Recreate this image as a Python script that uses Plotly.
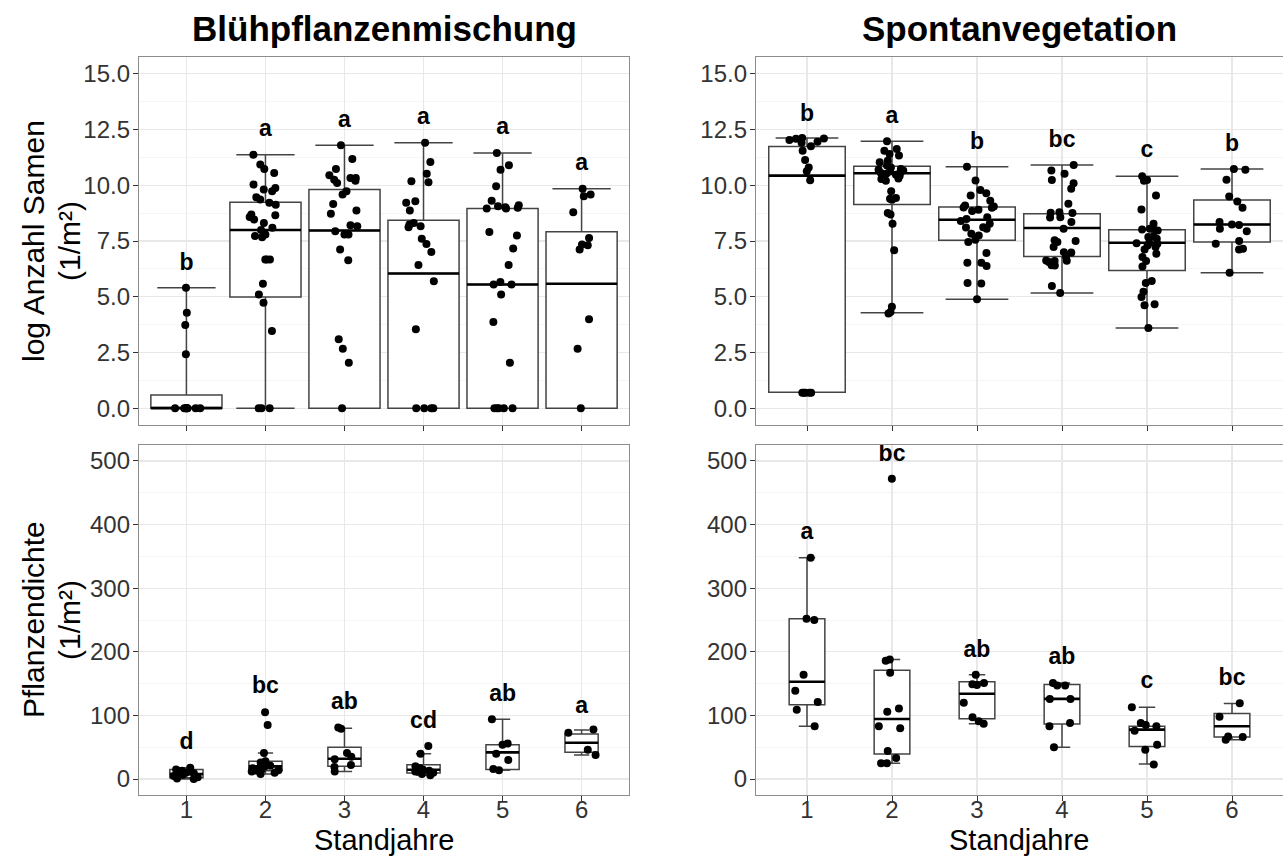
import plotly.graph_objects as go

# ---------------- data ----------------
standjahre = [1, 2, 3, 4, 5, 6]
tick_labels = ["1", "2", "3", "4", "5", "6"]

# Top-left: Blühpflanzenmischung, log Anzahl Samen
bpm_seed_points = [
    [5.4, 4.28, 3.73, 2.42, 0, 0, 0, 0, 0, 0, 0, 0],
    [11.37, 10.93, 10.73, 10.55, 10.03, 9.88, 9.81, 9.73, 9.46, 9.36, 9.21, 9.13, 8.69, 8.66, 8.58, 8.46,
     8.31, 8.09, 7.99, 7.79, 7.72, 7.67, 6.67, 6.67, 6.67, 5.58, 5.1, 4.73, 3.46, 0, 0, 0],
    [11.79, 11.18, 10.73, 10.45, 10.33, 10.33, 10.25, 10.2, 10.1, 9.73, 9.58, 9.16, 8.87, 8.72, 8.21, 8.16,
     7.94, 7.79, 7.79, 7.12, 6.64, 3.09, 2.67, 2.04, 0],
    [11.9, 11.04, 10.51, 10.18, 10.13, 9.28, 9.21, 8.87, 8.31, 8.24, 8.16, 8.12, 7.6, 7.37, 7.01, 6.42, 5.7,
     3.54, 0, 0, 0, 0],
    [11.45, 10.9, 10.7, 9.96, 9.31, 9.1, 9.06, 9.01, 8.99, 8.96, 8.96, 7.9, 7.75, 7.16, 6.42, 5.66, 5.55, 5.55,
     5.1, 3.87, 2.04, 0, 0, 0, 0, 0],
    [9.84, 9.58, 9.51, 8.79, 7.64, 7.34, 7.31, 7.12, 3.99, 2.67, 0],
]
bpm_seed_q1 = [0, 4.99, 0, 0, 0, 0]
bpm_seed_median = [0, 7.99, 7.97, 6.04, 5.55, 5.58]
bpm_seed_q3 = [0.6, 9.24, 9.81, 8.43, 8.96, 7.91]
bpm_seed_low = [0, 0, 0, 0, 0, 0]
bpm_seed_high = [5.4, 11.37, 11.79, 11.9, 11.45, 9.84]
bpm_seed_letters = ["b", "a", "a", "a", "a", "a"]
bpm_seed_letter_y = [6.47, 12.47, 12.89, 13.02, 12.57, 10.95]

# Top-right: Spontanvegetation, log Anzahl Samen
spo_seed_points = [
    [12.12, 12.1, 12.08, 12.03, 11.95, 11.9, 11.75, 11.55, 11.13, 10.8, 10.63, 10.22, 0.7, 0.7, 0.7, 0.7, 0.7],
    [11.97, 11.62, 11.55, 11.4, 11.33, 11.1, 11.03, 10.88, 10.8, 10.73, 10.69, 10.66, 10.62, 10.58, 10.55,
     10.51, 10.47, 10.43, 10.36, 10.3, 10.28, 10.2, 9.73, 9.43, 9.39, 9.35, 8.75, 8.69, 8.27, 7.08, 4.55,
     4.32, 4.25],
    [10.83, 10.21, 9.79, 9.64, 9.54, 9.31, 9.09, 9.05, 9.0, 8.99, 8.9, 8.85, 8.57, 8.49, 8.4, 8.27, 8.12,
     8.1, 8.05, 7.82, 7.75, 7.56, 7.45, 6.96, 6.53, 6.53, 6.38, 5.62, 5.6, 4.89],
    [10.91, 10.66, 10.51, 10.24, 10.09, 9.84, 9.17, 8.79, 8.77, 8.75, 8.57, 8.55, 8.35, 8.05, 7.53, 7.5,
     7.45, 7.23, 7.0, 6.98, 6.78, 6.63, 6.62, 6.6, 6.56, 6.41, 6.4, 5.48, 5.17],
    [10.4, 10.24, 10.2, 9.54, 8.91, 8.27, 8.05, 8.04, 8.02, 7.97, 7.7, 7.68, 7.6, 7.42, 7.4, 7.38, 7.3,
     7.23, 7.12, 6.93, 6.78, 6.6, 6.36, 5.71, 5.62, 5.22, 4.99, 4.66, 4.62, 3.6],
    [10.73, 10.7, 10.25, 9.49, 9.27, 8.99, 8.35, 8.24, 8.22, 8.05, 7.94, 7.5, 7.38, 7.15, 7.12, 6.08],
]
spo_seed_q1 = [0.72, 9.14, 7.53, 6.81, 6.18, 7.45]
spo_seed_median = [10.43, 10.54, 8.45, 8.08, 7.42, 8.24]
spo_seed_q3 = [11.74, 10.85, 9.02, 8.72, 8.0, 9.34]
spo_seed_low = [0.72, 4.28, 4.89, 5.17, 3.6, 6.08]
spo_seed_high = [12.12, 11.97, 10.83, 10.91, 10.4, 10.73]
spo_seed_letters = ["b", "a", "b", "bc", "c", "b"]
spo_seed_letter_y = [13.12, 13.06, 11.87, 11.97, 11.51, 11.78]

# Bottom-left: Blühpflanzenmischung, Pflanzendichte
bpm_dens_points = [
    [18, 15, 13, 12, 10, 9, 7, 5, 3, 1, 0],
    [105, 85, 41, 28, 26, 24, 22, 21, 20, 19, 17, 15, 14, 13, 12, 10, 8],
    [81, 79, 41, 35, 31, 22, 19, 12],
    [52, 40, 20, 17, 15, 13, 12, 10, 8, 6],
    [94, 56, 54, 40, 30, 16, 14],
    [78, 73, 46, 38],
]
bpm_dens_q1 = [2, 13, 20, 9.5, 15, 42]
bpm_dens_median = [8, 20, 32, 14.7, 42, 57]
bpm_dens_q3 = [15, 28, 50, 22.6, 54, 71]
bpm_dens_low = [0, 8, 12, 6, 14, 38]
bpm_dens_high = [18, 41, 80, 40, 94, 77]
bpm_dens_letters = ["d", "bc", "ab", "cd", "ab", "a"]
bpm_dens_letter_y = [55.6, 144.8, 118.6, 89.7, 131.7, 113.3]

# Bottom-right: Spontanvegetation, Pflanzendichte
spo_dens_points = [
    [348, 252, 250, 164, 139, 121, 109, 83],
    [472, 188, 186, 167, 111, 106, 83, 80, 44, 33, 25, 25],
    [164, 151, 149, 148, 120, 97, 91, 87],
    [151, 147, 147, 126, 126, 88, 83, 50],
    [113, 88, 85, 83, 76, 54, 46, 23],
    [119, 98, 67, 66, 62],
]
spo_dens_q1 = [117, 39.4, 95, 86.6, 51.4, 66]
spo_dens_median = [153, 94.5, 134, 126, 77.7, 83]
spo_dens_q3 = [252, 171, 153, 148.6, 83, 103]
spo_dens_low = [83, 25, 87, 50, 23.6, 62]
spo_dens_high = [348, 188, 164, 151, 113, 118.6]
spo_dens_letters = ["a", "bc", "ab", "ab", "c", "bc"]
spo_dens_letter_y = [387, 509.6, 201.5, 190.5, 151.6, 156.9]

titles = ["Blühpflanzenmischung", "Spontanvegetation"]
y_title_top = ["log Anzahl Samen", "(1/m²)"]
y_title_bottom = ["Pflanzendichte", "(1/m²)"]
x_title = "Standjahre"

# ---------------- figure ----------------
W, H = 1283, 857
FONT = "Liberation Sans, Arial, Helvetica, sans-serif"

fig = go.Figure()

panels = [
    dict(pts=bpm_seed_points, q1=bpm_seed_q1, med=bpm_seed_median, q3=bpm_seed_q3, lo=bpm_seed_low,
         hi=bpm_seed_high, let=bpm_seed_letters, ly=bpm_seed_letter_y, xa="x", ya="y", bw=0.9, ww=0.82, jit=0.5),
    dict(pts=spo_seed_points, q1=spo_seed_q1, med=spo_seed_median, q3=spo_seed_q3, lo=spo_seed_low,
         hi=spo_seed_high, let=spo_seed_letters, ly=spo_seed_letter_y, xa="x2", ya="y2", bw=0.9, ww=0.82, jit=0.5),
    dict(pts=bpm_dens_points, q1=bpm_dens_q1, med=bpm_dens_median, q3=bpm_dens_q3, lo=bpm_dens_low,
         hi=bpm_dens_high, let=bpm_dens_letters, ly=bpm_dens_letter_y, xa="x3", ya="y3", bw=0.42, ww=0.46, jit=0.9),
    dict(pts=spo_dens_points, q1=spo_dens_q1, med=spo_dens_median, q3=spo_dens_q3, lo=spo_dens_low,
         hi=spo_dens_high, let=spo_dens_letters, ly=spo_dens_letter_y, xa="x4", ya="y4", bw=0.42, ww=0.46, jit=0.9),
]

for p in panels:
    fig.add_trace(go.Box(
        x=standjahre, y=p["pts"], q1=p["q1"], median=p["med"], q3=p["q3"],
        lowerfence=p["lo"], upperfence=p["hi"],
        boxpoints="all", jitter=p["jit"], pointpos=0,
        width=p["bw"], whiskerwidth=p["ww"],
        fillcolor="white", line=dict(color="#444444", width=1.5),
        marker=dict(color="black", size=8),
        xaxis=p["xa"], yaxis=p["ya"], hoverinfo="skip",
    ))
    # thicker median bars (ggplot style)
    mx, my = [], []
    for xi, m in zip(standjahre, p["med"]):
        mx += [xi - p["bw"] / 2, xi + p["bw"] / 2, None]
        my += [m, m, None]
    fig.add_trace(go.Scatter(x=mx, y=my, mode="lines", line=dict(color="black", width=2.6),
                             xaxis=p["xa"], yaxis=p["ya"], hoverinfo="skip"))
    fig.add_trace(go.Scatter(x=standjahre, y=p["ly"], mode="text",
                             text=["<b>%s</b>" % t for t in p["let"]],
                             textposition="middle center",
                             textfont=dict(family=FONT, size=23, color="black"),
                             xaxis=p["xa"], yaxis=p["ya"], hoverinfo="skip"))

xl = [139 / W, 629 / W]
xr = [756 / W, 1.0]
yt = [1 - 425 / H, 1 - 57 / H]
yb = [1 - 795 / H, 1 - 445 / H]

grid_major = "#E8E8E8"
grid_minor = "#F2F2F2"
border = "#8C8C8C"
tickfont = dict(family=FONT, size=24, color="#333333")


def xax(domain, anchor, labels):
    return dict(domain=domain, anchor=anchor, range=[0.4, 6.6], tickmode="array",
                tickvals=standjahre, ticktext=tick_labels, showticklabels=labels,
                ticks="outside", ticklen=5, tickcolor="#333333", tickwidth=1,
                ticklabelstandoff=-12,
                showgrid=True, gridcolor=grid_major, gridwidth=1.2, zeroline=False,
                showline=True, linecolor=border, linewidth=1.2, mirror=True,
                tickfont=tickfont, fixedrange=True)


def yax(domain, anchor, rng, dtick, fmt):
    return dict(domain=domain, anchor=anchor, range=rng, tick0=0, dtick=dtick, tickformat=fmt,
                ticks="outside", ticklen=5, tickcolor="#333333", tickwidth=1,
                ticklabelstandoff=-2,
                showgrid=True, gridcolor=grid_major, gridwidth=1.2, zeroline=False,
                minor=dict(dtick=dtick / 2, tick0=0, showgrid=True, gridcolor=grid_minor, gridwidth=0.8),
                showline=True, linecolor=border, linewidth=1.2, mirror=True,
                tickfont=tickfont, fixedrange=True)


fig.update_layout(
    width=W, height=H, margin=dict(l=0, r=0, t=0, b=0),
    paper_bgcolor="white", plot_bgcolor="white", showlegend=False,
    font=dict(family=FONT, color="black"),
    xaxis=xax(xl, "y", False), yaxis=yax(yt, "x", [-0.75, 15.75], 2.5, ".1f"),
    xaxis2=xax(xr, "y2", False), yaxis2=yax(yt, "x2", [-0.75, 15.75], 2.5, ".1f"),
    xaxis3=xax(xl, "y3", True), yaxis3=yax(yb, "x3", [-25, 525], 100, "d"),
    xaxis4=xax(xr, "y4", True), yaxis4=yax(yb, "x4", [-25, 525], 100, "d"),
)

ann = []
# panel titles
for t, cx in zip(titles, [384, 1019]):
    ann.append(dict(text="<b>%s</b>" % t, x=cx / W, y=1 - 28 / H, xref="paper", yref="paper",
                    showarrow=False, xanchor="center", yanchor="middle",
                    font=dict(family=FONT, size=35, color="black")))
# x axis titles
for cx in [384, 1019]:
    ann.append(dict(text=x_title, x=cx / W, y=1 - 840 / H, xref="paper", yref="paper",
                    showarrow=False, xanchor="center", yanchor="middle",
                    font=dict(family=FONT, size=29, color="black")))
# y axis titles (two lines, rotated)
for lines, cy in [(y_title_top, 241), (y_title_bottom, 620)]:
    for line, cx in zip(lines, [33, 69]):
        ann.append(dict(text=line, x=cx / W, y=1 - cy / H, xref="paper", yref="paper",
                        showarrow=False, xanchor="center", yanchor="middle", textangle=-90,
                        font=dict(family=FONT, size=30, color="black")))
fig.update_layout(annotations=ann)

fig.write_html(
    "out.html",
    config={"displayModeBar": False, "staticPlot": True},
    post_script=("document.body.style.margin='0';document.body.style.padding='0';"
                 "document.body.style.overflow='hidden';"
                 "document.documentElement.style.overflow='hidden';"),
)
